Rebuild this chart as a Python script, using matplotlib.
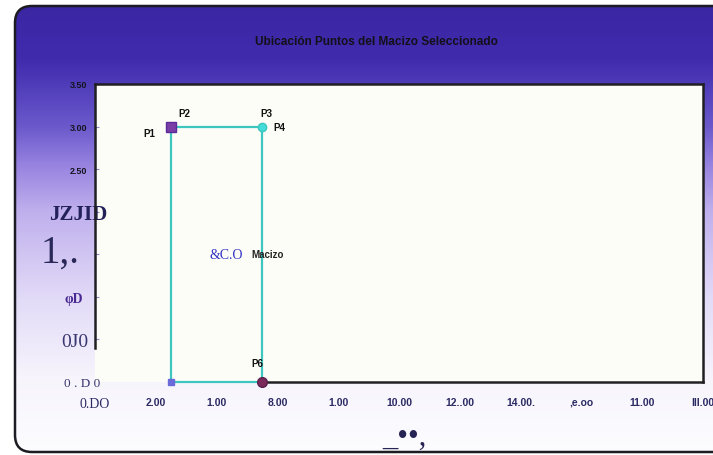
import numpy as np
import matplotlib
matplotlib.use("Agg")
import matplotlib.pyplot as plt
from matplotlib.patches import FancyBboxPatch
from matplotlib.colors import LinearSegmentedColormap
from matplotlib.transforms import ScaledTranslation

# ---- data -------------------------------------------------------------
title = "Ubicación Puntos del Macizo Seleccionado"

x_ticks = [0, 2, 4, 6, 8, 10, 12, 14, 16, 18, 20]
x_tick_labels = ["0.DO", "2.00", "1.00", "8.00", "1.00", "10.00",
                 "12..00", "14.00.", ",e.oo", "11.00", "III.00"]
y_ticks = [0.0, 0.5, 1.0, 1.5, 2.0, 2.5, 3.0, 3.5]
y_tick_labels = ["0 . D 0", "0J0", "φD", "1,.", "JZJID", "2.50", "3.00", "3.50"]

# outline of the block (closed polygon)
macizo_x = [2.5, 2.5, 5.5, 5.5, 2.5]
macizo_y = [0.0, 3.0, 3.0, 0.0, 0.0]

point_names = ["P1", "P2", "P3", "P4", "P6"]
point_x = [2.5, 2.5, 5.5, 5.5, 5.5]
point_y = [3.0, 3.0, 3.0, 3.0, 0.0]

series_label = "Macizo"
series_label_pos = (5.5, 1.5)
extra_label = "&C.O"
footer_text = "_••,"

# ---- figure -----------------------------------------------------------
W, H = 713, 456
fig = plt.figure(figsize=(W / 100, H / 100), dpi=100)
fig.patch.set_facecolor("white")

# background panel in pixel coordinates
bg = fig.add_axes([0, 0, 1, 1], zorder=-5)
bg.set_xlim(0, W)
bg.set_ylim(H, 0)
bg.axis("off")

panel = FancyBboxPatch((15, 7), W + 40, 446,
                       boxstyle="round,pad=0,rounding_size=17",
                       facecolor="none", edgecolor="#1c1c22", lw=1.8, zorder=3)
bg.add_patch(panel)

grad_cmap = LinearSegmentedColormap.from_list(
    "panel",
    [(0.00, (0.23, 0.15, 0.64)),
     (0.12, (0.25, 0.17, 0.68)),
     (0.27, (0.42, 0.35, 0.80)),
     (0.36, (0.60, 0.52, 0.88)),
     (0.46, (0.75, 0.69, 0.93)),
     (0.66, (0.89, 0.86, 0.97)),
     (0.84, (0.97, 0.96, 0.99)),
     (1.00, (0.99, 0.99, 1.00))])
grad = np.linspace(0, 1, 256).reshape(-1, 1)
im = bg.imshow(grad, cmap=grad_cmap, aspect="auto",
               extent=[15, W + 55, 453, 7], zorder=1)
im.set_clip_path(panel)

# title
fig.text(376 / W, 1 - 42 / H, title, ha="center", va="center",
         fontsize=8.5, fontweight="bold", color="#141018",
         family="Liberation Sans")

# ---- plot area --------------------------------------------------------
L, R, T, B = 95, 703, 85, 383
ax = fig.add_axes([L / W, 1 - B / H, (R - L) / W, (B - T) / H])
ax.set_facecolor("#fdfdf7")
ax.set_xlim(0, 20)
ax.set_ylim(0, 3.5)

for side in ["top", "right", "left", "bottom"]:
    ax.spines[side].set_color("#202024")
    ax.spines[side].set_linewidth(1.8)
ax.spines["left"].set_bounds(0.4, 3.5)
ax.spines["bottom"].set_bounds(5.5, 20)

ax.set_xticks(x_ticks)
ax.set_xticklabels(x_tick_labels)
ax.set_yticks(y_ticks)
ax.set_yticklabels(y_tick_labels)
ax.tick_params(axis="x", length=0, pad=10.5)
ax.tick_params(axis="y", length=3, direction="in", color="#9088c8", pad=0)
# no tick mark where the left spine is missing
ax.yaxis.get_major_ticks()[0].tick1line.set_visible(False)

navy = "#2b2a63"
for i, lab in enumerate(ax.get_xticklabels()):
    if i == 0:
        lab.set_family("Liberation Serif")
        lab.set_fontsize(10)
        lab.set_color(navy)
    else:
        lab.set_family("Liberation Sans")
        lab.set_fontweight("bold")
        lab.set_fontsize(7.5)
        lab.set_color(navy)

sans_small = dict(family="Liberation Sans", fontsize=6.5, color="#151520",
                  fontweight="bold")
y_styles = [
    dict(family="Liberation Serif", fontsize=9.5, color="#38366e"),
    dict(family="Liberation Serif", fontsize=14, color="#38366e"),
    dict(family="Liberation Serif", fontsize=10, color="#4a2a92", fontweight="bold"),
    dict(family="Liberation Serif", fontsize=28, color="#2a2858", va="baseline"),
    dict(family="Liberation Serif", fontsize=15, color="#23215a", fontweight="bold"),
    sans_small, sans_small, sans_small,
]
# per-label nudges (pixels) of the right edge / baseline
y_nudges = [(5, 0), (-7, 0), (-12, 0), (-15, -7), (12, 0), (-8, 0), (-8, 0), (-8, 0)]
for lab, st, (dx, dy) in zip(ax.get_yticklabels(), y_styles, y_nudges):
    lab.set(**st)
    lab.set_transform(lab.get_transform() +
                      ScaledTranslation(dx / 100, dy / 100, fig.dpi_scale_trans))

# block outline
ax.plot(macizo_x, macizo_y, color="#3cc6bf", lw=1.6, zorder=3, clip_on=False)

# point markers
ax.plot(point_x[0], point_y[0], marker="s", ms=7, mfc="#7a3ea6",
        mec="#5a2a9a", zorder=5, clip_on=False)
ax.plot(point_x[2], point_y[2], marker="o", ms=6, mfc="#44dcd8",
        mec="#3cc6bf", zorder=5, clip_on=False)
ax.plot(point_x[4], point_y[4], marker="o", ms=7, mfc="#7a2a5a",
        mec="#5a2050", zorder=5, clip_on=False)
ax.plot(macizo_x[0], macizo_y[0], marker="s", ms=4, mfc="#6a6ad8",
        mec="#6a6ad8", zorder=5, clip_on=False)

# point labels
offsets = [(-22, -6), (13, 14), (4, 14), (17, 0), (-5, 19)]
for name, px, py, off in zip(point_names, point_x, point_y, offsets):
    ax.annotate(name, (px, py), xytext=off, textcoords="offset pixels",
                ha="center", va="center", fontsize=7, fontweight="bold",
                color="#111111", family="Liberation Sans")

ax.annotate(series_label, series_label_pos, xytext=(5, 0),
            textcoords="offset pixels", ha="center", va="center",
            fontsize=7, fontweight="bold", color="#222222",
            family="Liberation Sans")
ax.annotate(extra_label, series_label_pos, xytext=(-36, 0),
            textcoords="offset pixels", ha="center", va="center",
            fontsize=10, color="#3232c4", family="Liberation Serif")

# footer mark under the axis
fig.text(404 / W, 1 - 437 / H, footer_text, ha="center", va="center",
         fontsize=22, color="#262454", family="Liberation Serif")

fig.savefig("out.png", dpi=100)
